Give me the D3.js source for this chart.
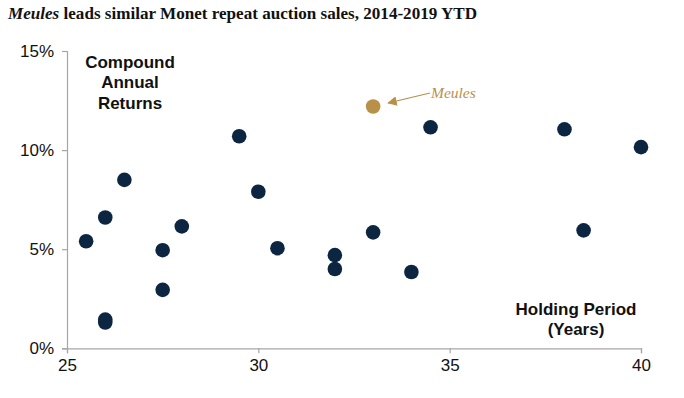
<!DOCTYPE html>
<html lang="en">
<head>
<meta charset="utf-8">
<script src="https://d3js.org/d3.v7.min.js"></script>
<style type="text/css">
body {
	margin: 0;
	background-color: white;
}
.tick text {
	font: 17px "Liberation Sans", Arial, sans-serif;
	fill: #111;
}
.note {
	font: bold 17px "Liberation Sans", Arial, sans-serif;
	fill: #111;
}
</style>
</head>
<body>
<svg id="chart"></svg>
<script type="text/javascript">

// holding period (years) and compound annual return (%)
var years   = [25.5, 26, 26.5, 26, 26, 27.5, 27.5, 28, 29.5, 30, 30.5, 32, 32, 33, 34, 34.5, 38, 38.5, 40];
var returns = [5.4, 6.6, 8.5, 1.45, 1.3, 4.95, 2.95, 6.15, 10.7, 7.9, 5.05, 4.7, 4.0, 5.85, 3.85, 11.15, 11.05, 5.95, 10.15];
var meules  = [33, 12.2];

var xTicks = [25, 30, 35, 40];
var yTicks = [0, 5, 10, 15];

var width = 684, height = 398;

var svg = d3.select("#chart")
	.attr("width", width)
	.attr("height", height);

var x = d3.scaleLinear().domain([25, 40]).range([67, 641]);
var y = d3.scaleLinear().domain([0, 15]).range([348.3, 51]);

// title
var title = svg.append("text")
	.attr("x", 8)
	.attr("y", 19)
	.attr("textLength", 469)
	.attr("lengthAdjust", "spacingAndGlyphs")
	.style("font", "bold 16.5px 'Liberation Serif', 'DejaVu Serif', serif")
	.style("fill", "#111");
title.append("tspan").style("font-style", "italic").text("Meules");
title.append("tspan").text(" leads similar Monet repeat auction sales, 2014-2019 YTD");

// axes
svg.append("g")
	.attr("transform", "translate(0," + y(0) + ")")
	.call(d3.axisBottom(x).tickValues(xTicks).tickSizeOuter(0).tickSize(5).tickPadding(6));

svg.append("g")
	.attr("transform", "translate(" + x(25) + ",0)")
	.call(d3.axisLeft(y).tickValues(yTicks).tickSizeOuter(0).tickSize(5).tickPadding(8)
		.tickFormat(function(d) { return d + "%"; }));

svg.selectAll(".domain, .tick line").style("stroke", "#a6a6a6").style("stroke-width", 1.2);

// axis notes
svg.append("text").attr("class", "note")
	.attr("text-anchor", "middle")
	.selectAll("tspan")
	.data(["Compound", "Annual", "Returns"])
	.join("tspan")
	.attr("x", 130)
	.attr("y", function(d, i) { return 67.5 + i * 20.5; })
	.text(function(d) { return d; });

svg.append("text").attr("class", "note")
	.attr("text-anchor", "middle")
	.selectAll("tspan")
	.data(["Holding Period", "(Years)"])
	.join("tspan")
	.attr("x", 576)
	.attr("y", function(d, i) { return 315 + i * 19.5; })
	.text(function(d) { return d; });

// dots
svg.selectAll("circle.dot")
	.data(years)
	.join("circle")
	.attr("class", "dot")
	.attr("cx", function(d) { return x(d); })
	.attr("cy", function(d, i) { return y(returns[i]); })
	.attr("r", 7.3)
	.style("fill", "#0c2641");

// Meules highlight
var gold = "#b8904a";
svg.append("defs").append("marker")
	.attr("id", "arrow")
	.attr("viewBox", "0 0 10 10")
	.attr("refX", 9).attr("refY", 5)
	.attr("markerWidth", 8).attr("markerHeight", 8)
	.attr("orient", "auto")
	.append("path")
	.attr("d", "M0,0 L10,5 L0,10 Z")
	.style("fill", gold);

svg.append("line")
	.attr("x1", 430).attr("y1", 93)
	.attr("x2", x(meules[0]) + 15).attr("y2", y(meules[1]) - 3.5)
	.style("stroke", gold)
	.style("stroke-width", 1.2)
	.attr("marker-end", "url(#arrow)");

svg.append("text")
	.attr("x", 431)
	.attr("y", 97.5)
	.style("font", "italic 15.5px 'Liberation Serif', 'DejaVu Serif', serif")
	.style("fill", gold)
	.text("Meules");

svg.append("circle")
	.attr("cx", x(meules[0]))
	.attr("cy", y(meules[1]))
	.attr("r", 7.3)
	.style("fill", gold);

</script>
</body>
</html>
